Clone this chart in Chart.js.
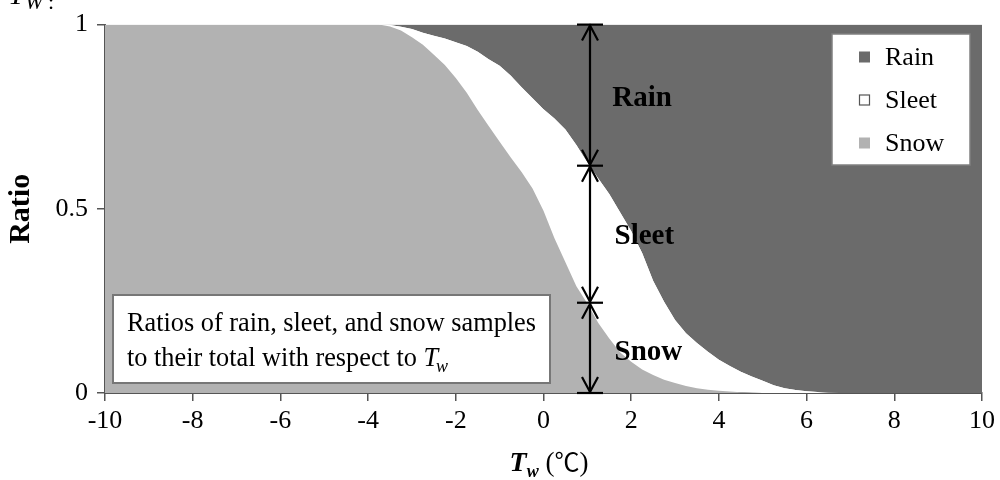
<!DOCTYPE html>
<html><head><meta charset="utf-8">
<script src="https://cdn.jsdelivr.net/npm/chart.js@4.4.0/dist/chart.umd.min.js"></script>
<style>html,body{margin:0;padding:0;background:#fff;overflow:hidden}#wrap{width:1000px;height:480px;position:relative}</style>
</head><body><div id="wrap"><canvas id="c" width="1000" height="480"></canvas></div>
<script>
// ---- data ----
const temperatures = [-10, -4, -3.75, -3.5, -3.25, -3, -2.75, -2.5, -2.25, -2, -1.75, -1.5, -1.25, -1, -0.75, -0.5, -0.25, 0, 0.25, 0.5, 0.75, 1, 1.25, 1.5, 1.75, 2, 2.25, 2.5, 2.75, 3, 3.25, 3.5, 3.75, 4, 4.25, 4.5, 4.75, 5, 5.25, 5.5, 5.75, 6, 6.25, 6.5, 6.75, 10];
const snowRatio  = [1, 1, 1, 0.995, 0.984, 0.966, 0.945, 0.918, 0.89, 0.855, 0.815, 0.768, 0.725, 0.682, 0.64, 0.6, 0.555, 0.495, 0.42, 0.355, 0.29, 0.243, 0.19, 0.148, 0.11, 0.085, 0.064, 0.049, 0.036, 0.027, 0.019, 0.013, 0.009, 0.006, 0.004, 0.002, 0.001, 0, 0, 0, 0, 0, 0, 0, 0, 0];
const sleetRatio = [0, 0, 0, 0.004, 0.01, 0.022, 0.033, 0.052, 0.072, 0.097, 0.127, 0.158, 0.181, 0.206, 0.222, 0.23, 0.245, 0.275, 0.325, 0.36, 0.383, 0.383, 0.392, 0.392, 0.38, 0.355, 0.316, 0.256, 0.212, 0.171, 0.143, 0.123, 0.103, 0.084, 0.069, 0.056, 0.044, 0.033, 0.021, 0.013, 0.008, 0.005, 0.003, 0.001, 0, 0];
const rainRatio  = [0, 0, 0, 0.001, 0.006, 0.012, 0.022, 0.03, 0.038, 0.048, 0.058, 0.074, 0.094, 0.112, 0.138, 0.17, 0.2, 0.23, 0.255, 0.285, 0.327, 0.374, 0.418, 0.46, 0.51, 0.56, 0.62, 0.695, 0.752, 0.802, 0.838, 0.864, 0.888, 0.91, 0.927, 0.942, 0.955, 0.967, 0.979, 0.987, 0.992, 0.995, 0.997, 0.999, 1, 1];
const xTickValues = [-10, -8, -6, -4, -2, 0, 2, 4, 6, 8, 10];
const yTickValues = [0, 0.5, 1];
const seriesNames = ['Snow', 'Sleet', 'Rain'];
const arrowTemperature = 1.05;
const arrowStops = [1, 0.617, 0.245, 0];
const regionLabels = [
  {text: 'Rain', x: 1.57, y: 0.80},
  {text: 'Sleet', x: 1.62, y: 0.425},
  {text: 'Snow', x: 1.62, y: 0.11}
];
const noteLines = ['Ratios of rain, sleet, and snow samples', 'to their total with respect to '];

// ---- styles ----
const SERIF = '"Liberation Serif", "Times New Roman", serif';
const colors = {Snow: '#b2b2b2', Sleet: '#ffffff', Rain: '#6b6b6b'};

function pts(vals) { return temperatures.map((t, i) => ({x: t, y: vals[i]})); }
const seriesVals = [snowRatio, sleetRatio, rainRatio];

const datasets = seriesNames.map((name, i) => ({
  label: name,
  data: pts(seriesVals[i]),
  backgroundColor: colors[name],
  borderColor: 'rgba(0,0,0,0)',
  borderWidth: 0,
  pointRadius: 0,
  tension: 0,
  fill: i === 0 ? 'origin' : '-1'
}));

const decor = {
  id: 'decor',
  afterDatasetsDraw(chart) {
    const ctx = chart.ctx, xs = chart.scales.x, ys = chart.scales.y;
    ctx.save();
    // arrows
    const ax = Math.round(xs.getPixelForValue(arrowTemperature));
    ctx.strokeStyle = '#000'; ctx.lineWidth = 2.2; ctx.lineCap = 'butt';
    arrowStops.forEach(v => {
      const py = ys.getPixelForValue(v);
      ctx.beginPath(); ctx.moveTo(ax - 13, py); ctx.lineTo(ax + 13, py); ctx.stroke();
    });
    for (let i = 0; i < arrowStops.length - 1; i++) {
      const y1 = ys.getPixelForValue(arrowStops[i]) + 1, y2 = ys.getPixelForValue(arrowStops[i + 1]) - 1;
      ctx.beginPath(); ctx.moveTo(ax, y1); ctx.lineTo(ax, y2); ctx.stroke();
      ctx.beginPath(); ctx.moveTo(ax - 8, y1 + 15); ctx.lineTo(ax, y1); ctx.lineTo(ax + 8, y1 + 15); ctx.stroke();
      ctx.beginPath(); ctx.moveTo(ax - 8, y2 - 15); ctx.lineTo(ax, y2); ctx.lineTo(ax + 8, y2 - 15); ctx.stroke();
    }
    // region labels
    ctx.fillStyle = '#000'; ctx.font = 'bold 29px ' + SERIF; ctx.textBaseline = 'middle'; ctx.textAlign = 'left';
    regionLabels.forEach(l => ctx.fillText(l.text, xs.getPixelForValue(l.x), ys.getPixelForValue(l.y)));

    // legend box
    ctx.fillStyle = '#fff'; ctx.fillRect(832, 34, 138, 131);
    ctx.strokeStyle = '#808080'; ctx.lineWidth = 1.5; ctx.strokeRect(832, 34, 138, 131);
    const order = chart.data.datasets.slice().reverse();
    ctx.font = '26px ' + SERIF; ctx.textBaseline = 'middle';
    order.forEach((d, i) => {
      const cy = 57 + i * 43;
      ctx.fillStyle = d.backgroundColor; ctx.fillRect(859, cy - 5.5, 11, 11);
      if (d.label === 'Sleet') { ctx.strokeStyle = '#555'; ctx.lineWidth = 1.2; ctx.strokeRect(859.5, cy - 5, 10, 10); }
      ctx.fillStyle = '#000'; ctx.fillText(d.label, 885, cy + 1);
    });

    // note box
    ctx.fillStyle = '#fff'; ctx.fillRect(113, 295, 437, 88);
    ctx.strokeStyle = '#777'; ctx.lineWidth = 2; ctx.strokeRect(113, 295, 437, 88);
    ctx.fillStyle = '#000'; ctx.textBaseline = 'alphabetic'; ctx.font = '26.3px ' + SERIF;
    ctx.fillText(noteLines[0], 127, 331);
    ctx.fillText(noteLines[1], 127, 366);
    let w = ctx.measureText(noteLines[1]).width;
    ctx.font = 'italic 26.3px ' + SERIF; ctx.fillText('T', 127 + w, 366);
    const tw = ctx.measureText('T').width;
    ctx.font = 'italic 18px ' + SERIF; ctx.fillText('w', 127 + w + tw - 2, 372);
    ctx.restore();
  },
  afterDraw(chart) {
    const ctx = chart.ctx;
    ctx.save();
    ctx.fillStyle = '#000'; ctx.textBaseline = 'alphabetic'; ctx.textAlign = 'left';
    // x-axis title: T_w (℃)
    const parts = [
      {t: 'T', f: 'bold italic 28px ' + SERIF, dy: 0},
      {t: 'w', f: 'bold italic 18px ' + SERIF, dy: 6},
      {t: ' (', f: '27px ' + SERIF, dy: 0},
      {t: '\u2103', f: '25px "Noto Sans CJK SC", ' + SERIF, dy: 0},
      {t: ')', f: '27px ' + SERIF, dy: 0}
    ];
    let total = 0;
    parts.forEach(p => { ctx.font = p.f; p.w = ctx.measureText(p.t).width; total += p.w; });
    let x = 549 - total / 2;
    parts.forEach(p => { ctx.font = p.f; ctx.fillText(p.t, x, 471 + p.dy); x += p.w; });
    // cut caption fragment at top-left
    ctx.font = 'italic 30px ' + SERIF; ctx.fillText('T', 8, 4);
    ctx.font = 'italic 22px ' + SERIF; ctx.fillText('W', 25, 9);
    ctx.font = '22px ' + SERIF; ctx.fillText(':', 48, 9);
    ctx.restore();
  }
};

new Chart(document.getElementById('c'), {
  type: 'line',
  data: {datasets},
  options: {
    responsive: false,
    animation: false,
    layout: {padding: {left: 0, right: 15, top: 22, bottom: 0}},
    plugins: {legend: {display: false}, tooltip: {enabled: false}},
    scales: {
      x: {
        type: 'linear', min: -10, max: 10,
        afterBuildTicks: s => { s.ticks = xTickValues.map(v => ({value: v})); },
        afterFit: s => { s.height = 87; },
        grid: {display: true, drawOnChartArea: false, drawTicks: true, tickLength: 8, color: '#555', lineWidth: 1.5},
        border: {display: true, color: '#555', width: 2},
        ticks: {color: '#000', font: {family: SERIF, size: 26}, padding: 5, maxRotation: 0, callback: v => String(v)}
      },
      y: {
        type: 'linear', min: 0, max: 1, stacked: true,
        afterBuildTicks: s => { s.ticks = yTickValues.map(v => ({value: v})); },
        afterFit: s => { s.width = 105; },
        grid: {display: true, drawOnChartArea: false, drawTicks: true, tickLength: 8, color: '#555', lineWidth: 1.5},
        border: {display: true, color: '#555', width: 2},
        ticks: {color: '#000', font: {family: SERIF, size: 26}, padding: 9, callback: v => String(v)},
        title: {display: true, text: 'Ratio', color: '#000', font: {family: SERIF, size: 30, weight: 'bold'}, padding: {top: 3, bottom: 0}}
      }
    }
  },
  plugins: [decor]
});
</script>
</body></html>
